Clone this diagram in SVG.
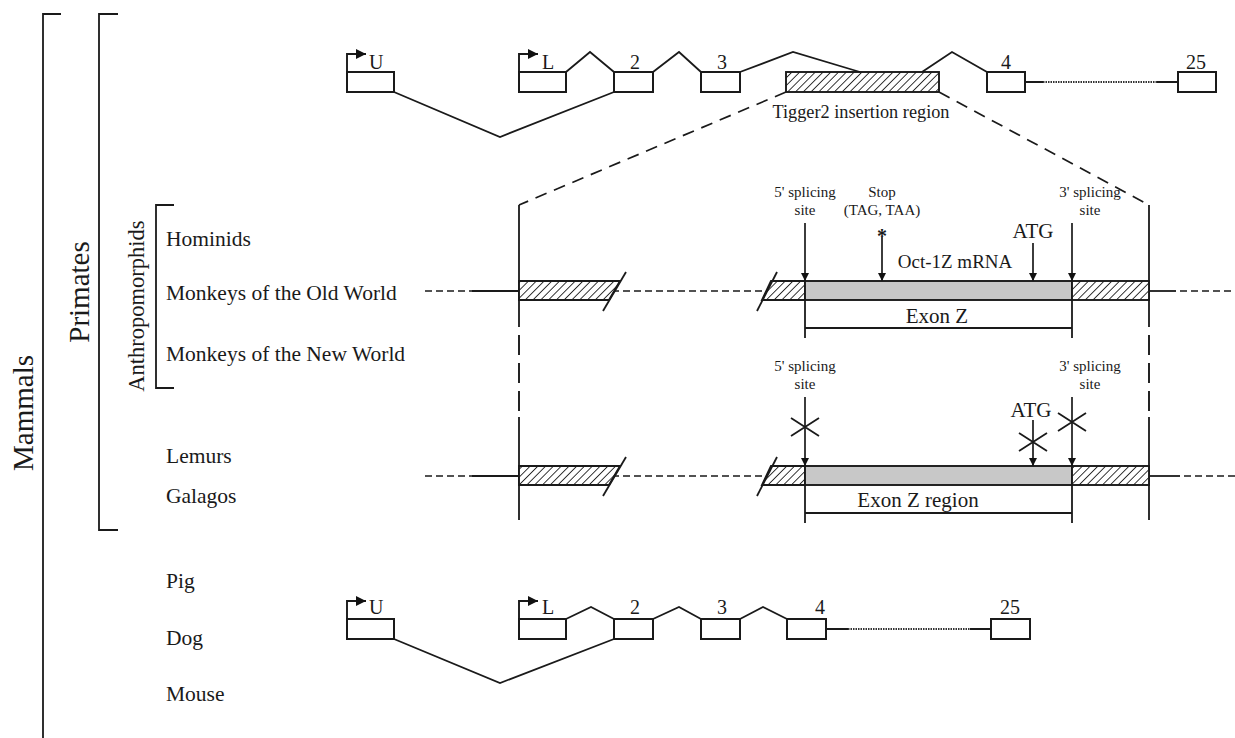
<svg xmlns="http://www.w3.org/2000/svg" width="1235" height="738" viewBox="0 0 1235 738">
<defs>
<pattern id="hatch" patternUnits="userSpaceOnUse" width="5.5" height="5.5" patternTransform="rotate(45)">
<rect width="5.5" height="5.5" fill="#fff"/>
<line x1="0" y1="0" x2="0" y2="5.5" stroke="#222" stroke-width="1.8"/>
</pattern>
<marker id="ah" viewBox="0 0 10 10" refX="10" refY="5" markerWidth="8" markerHeight="8" markerUnits="userSpaceOnUse" orient="auto">
<path d="M0,0 L10,5 L0,10 z" fill="#111"/>
</marker>
<marker id="ahp" viewBox="0 0 10 10" refX="10" refY="5" markerWidth="12" markerHeight="10" markerUnits="userSpaceOnUse" orient="auto">
<path d="M0,0 L10,5 L0,10 z" fill="#111"/>
</marker>
</defs>
<style>
text{font-family:"Liberation Serif","Times New Roman",serif;fill:#1a1a1a}
.ln{stroke:#1a1a1a;stroke-width:1.8;fill:none}
.box{stroke:#1a1a1a;stroke-width:2;fill:#fff}
.hb{stroke:#1a1a1a;stroke-width:1.9;fill:url(#hatch)}
.grey{stroke:#1a1a1a;stroke-width:1.9;fill:#c8c8c8}
.dash{stroke:#1a1a1a;stroke-width:1.7;fill:none;stroke-dasharray:7 4}
.ldash{stroke:#1a1a1a;stroke-width:1.7;fill:none;stroke-dasharray:12 8}
.vdash{stroke:#1a1a1a;stroke-width:1.9;fill:none;stroke-dasharray:20 8}
.dot{stroke:#333;stroke-width:2;fill:none;stroke-dasharray:1.5 1}
.arr{stroke:#1a1a1a;stroke-width:1.7;fill:none;marker-end:url(#ah)}
.parr{stroke:#1a1a1a;stroke-width:1.9;fill:none;marker-end:url(#ahp)}
.lab{font-size:21.5px}
.ex{font-size:20px}
.sm{font-size:15px}
.mid{text-anchor:middle}
</style>

<g id="brackets">
<path class="ln" d="M61,14 H43 V738" stroke-width="2"/>
<path class="ln" d="M118,14 H99 V530 H118"/>
<path class="ln" d="M174,205 H156 V388 H174"/>
<text transform="translate(33,413) rotate(-90)" class="mid" font-size="29">Mammals</text>
<text transform="translate(89,292) rotate(-90)" class="mid" font-size="29">Primates</text>
<text transform="translate(144,306) rotate(-90)" class="mid" font-size="22.5">Anthropomorphids</text>
</g>

<g id="species">
<text x="166" y="246" class="lab">Hominids</text>
<text x="166" y="300" class="lab">Monkeys of the Old World</text>
<text x="166" y="361" class="lab">Monkeys of the New World</text>
<text x="166" y="463" class="lab">Lemurs</text>
<text x="166" y="503" class="lab">Galagos</text>
<text x="166" y="588" class="lab">Pig</text>
<text x="166" y="645" class="lab">Dog</text>
<text x="166" y="701" class="lab">Mouse</text>
</g>

<g id="top-gene">
<path class="ln" d="M394,92 L500,137 L614,92"/>
<path class="ln" d="M566,72 L590,52 L614,72"/>
<path class="ln" d="M653,72 L679,52 L701,72"/>
<path class="ln" d="M740,72 L793,52 L860,72"/>
<path class="ln" d="M922,72 L952,52 L987,72"/>
<path class="ln" d="M1025,82 H1043 M1157,82 H1178"/>
<path class="dot" d="M1043,82 H1157"/>
<rect class="box" x="347" y="72" width="47" height="20"/>
<rect class="box" x="519" y="72" width="47" height="20"/>
<rect class="box" x="614" y="72" width="39" height="20"/>
<rect class="box" x="701" y="72" width="39" height="20"/>
<rect class="hb" x="786" y="72" width="153" height="20"/>
<rect class="box" x="987" y="72" width="38" height="20"/>
<rect class="box" x="1178" y="72" width="38" height="20"/>
<path class="parr" d="M347,72 V54 H366"/>
<path class="parr" d="M519,72 V54 H538"/>
<text x="369" y="69" class="ex">U</text>
<text x="542" y="69" class="ex">L</text>
<text x="635" y="69" class="ex mid">2</text>
<text x="722" y="69" class="ex mid">3</text>
<text x="1006" y="69" class="ex mid">4</text>
<text x="1196" y="69" class="ex mid">25</text>
<text x="861" y="118" font-size="18.3" class="mid">Tigger2 insertion region</text>
</g>

<g id="connectors">
<path class="ldash" d="M786,92 L519,205"/>
<path class="ldash" d="M939,92 L1149,205"/>
<path class="ln" d="M519,205 V327 M519,417 V520" stroke-width="1.9"/>
<path class="vdash" d="M519,335 V417"/>
<path class="ln" d="M1149,205 V327 M1149,417 V520" stroke-width="1.9"/>
<path class="vdash" d="M1149,335 V417"/>
</g>

<g id="row-old-world">
<path class="dash" d="M425,291 H472"/>
<path class="ln" d="M472,291 H519"/>
<path class="dash" d="M612,291 H764"/>
<path class="ln" d="M1149,291 H1176"/>
<path class="dash" d="M1180,291 H1235"/>
<polygon class="hb" points="519,281 620,281 609,300 519,300"/>
<path class="ln" d="M626,272 L603,311"/>
<polygon class="hb" points="771,281 805,281 805,300 762,300"/>
<path class="ln" d="M777,272 L757,311"/>
<rect class="grey" x="805" y="281" width="267" height="19"/>
<rect class="hb" x="1072" y="281" width="77" height="19"/>
<path class="arr" d="M805,223 V281"/>
<path class="ln" d="M805,300 V338"/>
<path class="arr" d="M1072,223 V281"/>
<path class="ln" d="M1072,300 V338 M805,328 H1072"/>
<path class="arr" d="M882,237 V281"/>
<path class="arr" d="M1033,243 V281"/>
<text x="805" y="197" class="sm mid">5' splicing</text>
<text x="805" y="215" class="sm mid">site</text>
<text x="882" y="197" class="sm mid">Stop</text>
<text x="882" y="215" class="sm mid">(TAG, TAA)</text>
<text x="882" y="243" font-size="20" font-weight="bold" class="mid">*</text>
<text x="1033" y="238" font-size="21" class="mid">ATG</text>
<text x="955" y="268" font-size="19" class="mid">Oct-1Z mRNA</text>
<text x="1090" y="197" class="sm mid">3' splicing</text>
<text x="1090" y="215" class="sm mid">site</text>
<text x="937" y="323" font-size="21" class="mid">Exon Z</text>
</g>

<g id="row-lemurs">
<path class="dash" d="M425,476 H472"/>
<path class="ln" d="M472,476 H519"/>
<path class="dash" d="M612,476 H764"/>
<path class="ln" d="M1149,476 H1180"/>
<path class="dash" d="M1184,476 H1235"/>
<polygon class="hb" points="519,466 620,466 609,485 519,485"/>
<path class="ln" d="M626,457 L603,496"/>
<polygon class="hb" points="771,466 805,466 805,485 762,485"/>
<path class="ln" d="M777,457 L757,496"/>
<rect class="grey" x="805" y="466" width="267" height="19"/>
<rect class="hb" x="1072" y="466" width="77" height="19"/>
<path class="arr" d="M805,397 V466"/>
<path class="ln" d="M805,485 V523"/>
<path class="arr" d="M1072,397 V466"/>
<path class="ln" d="M1072,485 V523 M805,513 H1072"/>
<path class="arr" d="M1033,420 V466"/>
<path class="ln" d="M791,418 L819,436 M791,436 L819,418" stroke-width="2"/>
<path class="ln" d="M1019,433 L1047,451 M1019,451 L1047,433" stroke-width="2"/>
<path class="ln" d="M1058,413 L1086,431 M1058,431 L1086,413" stroke-width="2"/>
<text x="805" y="371" class="sm mid">5' splicing</text>
<text x="805" y="389" class="sm mid">site</text>
<text x="1090" y="371" class="sm mid">3' splicing</text>
<text x="1090" y="389" class="sm mid">site</text>
<text x="1031" y="417" font-size="21" class="mid">ATG</text>
<text x="918" y="507" font-size="21" class="mid">Exon Z region</text>
</g>

<g id="bottom-gene">
<path class="ln" d="M394,639 L500,683 L614,639"/>
<path class="ln" d="M566,619 L591,607 L614,619"/>
<path class="ln" d="M653,619 L679,607 L701,619"/>
<path class="ln" d="M740,619 L763,607 L787,619"/>
<path class="ln" d="M826,629 H848 M970,629 H991"/>
<path class="dot" d="M848,629 H970"/>
<rect class="box" x="347" y="619" width="47" height="20"/>
<rect class="box" x="519" y="619" width="47" height="20"/>
<rect class="box" x="614" y="619" width="39" height="20"/>
<rect class="box" x="701" y="619" width="39" height="20"/>
<rect class="box" x="787" y="619" width="39" height="20"/>
<rect class="box" x="991" y="619" width="39" height="20"/>
<path class="parr" d="M347,619 V601 H366"/>
<path class="parr" d="M519,619 V601 H538"/>
<text x="369" y="614" class="ex">U</text>
<text x="542" y="614" class="ex">L</text>
<text x="635" y="614" class="ex mid">2</text>
<text x="722" y="614" class="ex mid">3</text>
<text x="820" y="614" class="ex mid">4</text>
<text x="1010" y="614" class="ex mid">25</text>
</g>
</svg>
